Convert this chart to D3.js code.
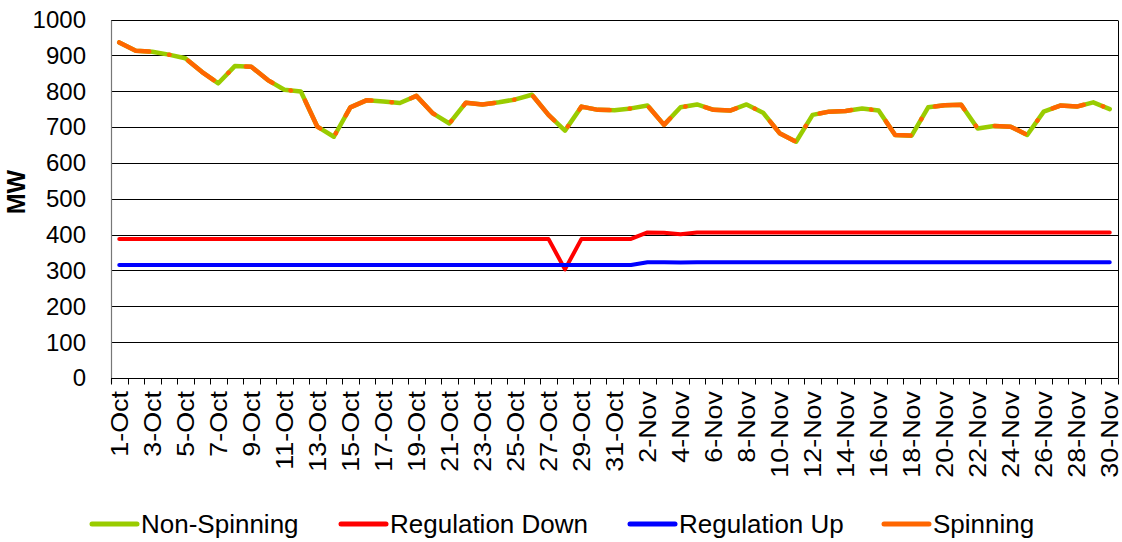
<!DOCTYPE html>
<html>
<head>
<meta charset="utf-8">
<script src="https://cdn.jsdelivr.net/npm/d3@7"></script>
<style>
  html, body { margin: 0; padding: 0; background: #fff; }
  svg { display: block; }
  text { font-family: "Liberation Sans", Arial, sans-serif; fill: #000; }
</style>
</head>
<body>
<svg id="chart" width="1122" height="542"></svg>
<script>
// ---- data ----
const categories = [
  "1-Oct","2-Oct","3-Oct","4-Oct","5-Oct","6-Oct","7-Oct","8-Oct","9-Oct","10-Oct",
  "11-Oct","12-Oct","13-Oct","14-Oct","15-Oct","16-Oct","17-Oct","18-Oct","19-Oct","20-Oct",
  "21-Oct","22-Oct","23-Oct","24-Oct","25-Oct","26-Oct","27-Oct","28-Oct","29-Oct","30-Oct",
  "31-Oct","1-Nov","2-Nov","3-Nov","4-Nov","5-Nov","6-Nov","7-Nov","8-Nov","9-Nov",
  "10-Nov","11-Nov","12-Nov","13-Nov","14-Nov","15-Nov","16-Nov","17-Nov","18-Nov","19-Nov",
  "20-Nov","21-Nov","22-Nov","23-Nov","24-Nov","25-Nov","26-Nov","27-Nov","28-Nov","29-Nov",
  "30-Nov"
];
const nonSpinning = [
  936,913,910,902,892,854,822,870,868,831,
  804,799,701,673,755,775,771,767,787,738,
  710,768,763,769,777,790,734,690,757,748,
  747,752,760,706,755,763,748,746,763,740,
  683,659,734,743,745,752,746,678,676,755,
  761,762,696,703,701,678,743,760,757,769,
  750
];
const spinning = [
  936,913,910,902,892,854,822,870,868,831,
  804,799,701,673,755,775,771,767,787,738,
  710,768,763,769,777,790,734,690,757,748,
  747,752,760,706,755,763,748,746,763,740,
  683,659,734,743,745,752,746,678,676,755,
  761,762,696,703,701,678,743,760,757,769,
  750
];
const regulationDown = [
  388,388,388,388,388,388,388,388,388,388,
  388,388,388,388,388,388,388,388,388,388,
  388,388,388,388,388,388,388,303,388,388,
  388,388,406,405,401,406,406,406,406,406,
  406,406,406,406,406,406,406,406,406,406,
  406,406,406,406,406,406,406,406,406,406,
  406
];
const regulationUp = [
  315,315,315,315,315,315,315,315,315,315,
  315,315,315,315,315,315,315,315,315,315,
  315,315,315,315,315,315,315,315,315,315,
  315,315,323,323,322,323,323,323,323,323,
  323,323,323,323,323,323,323,323,323,323,
  323,323,323,323,323,323,323,323,323,323,
  323
];
const yTicks = [0,100,200,300,400,500,600,700,800,900,1000];
const yTitle = "MW";
const legendLabels = ["Non-Spinning","Regulation Down","Regulation Up","Spinning"];

// ---- layout ----
const svg = d3.select("#chart");
const pLeft = 111, pRight = 1118, pTop = 19.5, pBottom = 378;

const x = d3.scaleBand().domain(categories).range([pLeft, pRight]).paddingInner(0).paddingOuter(0);
const y = d3.scaleLinear().domain([0, 1000]).range([pBottom, pTop]);
const cx = d => x(d) + x.bandwidth() / 2;
const snap = v => Math.round(v) + 0.5;

// gridlines
svg.append("g").selectAll("line").data(yTicks.filter(t => t > 0)).join("line")
  .attr("x1", pLeft).attr("x2", pRight)
  .attr("y1", d => snap(y(d))).attr("y2", d => snap(y(d)))
  .attr("stroke", "#000").attr("stroke-width", 1);

// right border
svg.append("line").attr("x1", snap(pRight)).attr("x2", snap(pRight))
  .attr("y1", snap(y(1000))).attr("y2", snap(y(0)))
  .attr("stroke", "#000").attr("stroke-width", 1);

// y axis line
svg.append("line").attr("x1", snap(pLeft)).attr("x2", snap(pLeft))
  .attr("y1", snap(y(1000))).attr("y2", snap(y(0)) + 5)
  .attr("stroke", "#777").attr("stroke-width", 1.2);

// x axis line
svg.append("line").attr("x1", pLeft).attr("x2", pRight)
  .attr("y1", snap(y(0))).attr("y2", snap(y(0)))
  .attr("stroke", "#000").attr("stroke-width", 1);

// x ticks at band boundaries
const boundaries = d3.range(categories.length + 1).map(i => x.range()[0] + i * x.step());
svg.append("g").selectAll("line").data(boundaries).join("line")
  .attr("x1", d => snap(d)).attr("x2", d => snap(d))
  .attr("y1", snap(y(0))).attr("y2", snap(y(0)) + 6)
  .attr("stroke", "#000").attr("stroke-width", 1);

// y tick labels
svg.append("g").selectAll("text").data(yTicks).join("text")
  .attr("x", 86).attr("y", d => y(d)).attr("dy", "0.35em")
  .attr("text-anchor", "end").attr("font-size", "24px")
  .text(d => d);

// y title
svg.append("text")
  .attr("transform", "translate(16,192) rotate(-90)")
  .attr("text-anchor", "middle").attr("dy", "0.35em")
  .attr("font-size", "25px").attr("font-weight", "bold")
  .text(yTitle);

// x tick labels (every other category)
svg.append("g").selectAll("text").data(categories.filter((d, i) => i % 2 === 0)).join("text")
  .attr("transform", d => `translate(${cx(d)},391) rotate(-90) scale(1.17,1)`)
  .attr("text-anchor", "end").attr("dy", "0.36em")
  .attr("font-size", "23px")
  .text(d => d);

// series lines
const line = d3.line().x((d, i) => cx(categories[i])).y(d => y(d));
const series = [
  { values: nonSpinning, color: "#99CC00", width: 4.5, dash: null },
  { values: regulationDown, color: "#FF0000", width: 4, dash: null },
  { values: regulationUp, color: "#0000FF", width: 4, dash: null },
  { values: spinning, color: "#FF6600", width: 4.5, dash: "32,20,0.5,20" }
];
series.forEach(s => {
  svg.append("path").datum(s.values)
    .attr("d", line)
    .attr("fill", "none")
    .attr("stroke", s.color)
    .attr("stroke-width", s.width)
    .attr("stroke-linejoin", "round")
    .attr("stroke-linecap", "round")
    .attr("stroke-dasharray", s.dash);
});

// legend
const legendColors = ["#99CC00", "#FF0000", "#0000FF", "#FF6600"];
const legendX = [92, 341, 630, 884];
const legendY = 524;
const lg = svg.append("g");
legendLabels.forEach((lab, i) => {
  lg.append("line")
    .attr("x1", legendX[i]).attr("x2", legendX[i] + 45)
    .attr("y1", legendY).attr("y2", legendY)
    .attr("stroke", legendColors[i]).attr("stroke-width", 5)
    .attr("stroke-linecap", "round");
  lg.append("text")
    .attr("x", legendX[i] + 49).attr("y", legendY).attr("dy", "0.35em")
    .attr("font-size", "26px")
    .text(lab);
});
</script>
</body>
</html>
